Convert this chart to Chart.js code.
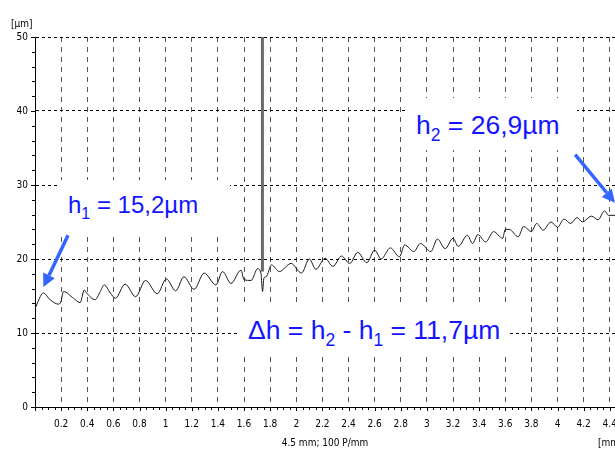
<!DOCTYPE html>
<html>
<head>
<meta charset="utf-8">
<script src="https://cdn.jsdelivr.net/npm/chart.js@4/dist/chart.umd.min.js"></script>
<style>
html,body{margin:0;padding:0;background:#fff;}
#wrap{position:relative;width:615px;height:452px;overflow:hidden;background:#fff;}
#c{position:absolute;left:0;top:0;}
.box{position:absolute;background:#fff;}
.lbl{position:absolute;font-family:'Liberation Sans',Arial,sans-serif;color:#1414ff;font-size:24px;line-height:24px;white-space:nowrap;}
.lbl sub{font-size:16px;vertical-align:baseline;position:relative;top:6px;}
.big{font-size:26.5px;line-height:26.5px;}
.big sub{font-size:17.5px;top:7px;}
</style>
</head>
<body>
<div id="wrap">
<canvas id="c" width="615" height="452"></canvas>
<div class="box" style="left:57px;top:180px;width:173px;height:54px"></div>
<div class="box" style="left:405px;top:98px;width:172px;height:52px"></div>
<div class="box" style="left:240px;top:306px;width:268px;height:46px"></div>
<div class="lbl" style="left:68px;top:193px">h<sub>1</sub> = 15,2µm</div>
<div class="lbl big" style="left:416px;top:112px">h<sub>2</sub> = 26,9µm</div>
<div class="lbl big" style="left:248px;top:317px">Δh = h<sub>2</sub> - h<sub>1</sub> = 11,7µm</div>
</div>
<script>
// ---- data ----
const profileX = [
  0, 0.064, 0.115, 0.18, 0.198, 0.218, 0.295, 0.346, 0.377, 0.395,
  0.46, 0.5, 0.53, 0.577, 0.615, 0.69, 0.77, 0.846, 0.936, 1.005,
  1.077, 1.14, 1.218, 1.295, 1.385, 1.436, 1.5, 1.577, 1.6, 1.654,
  1.705, 1.73, 1.742, 1.752, 1.77, 1.81, 1.87, 1.96, 2.04, 2.1,
  2.15, 2.22, 2.28, 2.346, 2.41, 2.47, 2.54, 2.6, 2.65, 2.72,
  2.79, 2.83, 2.9, 2.95, 3.03, 3.08, 3.14, 3.2, 3.24, 3.31,
  3.35, 3.39, 3.45, 3.51, 3.58, 3.6, 3.63, 3.7, 3.74, 3.8,
  3.84, 3.89, 3.95, 4.0, 4.05, 4.1, 4.15, 4.19, 4.26, 4.31,
  4.36, 4.39, 4.44
];
const profileY = [
  13.3, 15.4, 14.5, 13.9, 14.2, 15.6, 14.7, 14.1, 15.8, 15.4,
  14.5, 15.6, 16.5, 15.4, 14.7, 16.6, 14.9, 17.1, 15.3, 17.3,
  15.7, 17.6, 15.9, 18.1, 16.5, 18.3, 16.7, 18.5, 17.2, 17.1,
  18.7, 18.0, 15.6, 17.4, 17.6, 19.2, 18.3, 19.4, 18.1, 20.0,
  18.6, 20.1, 19.0, 20.4, 19.4, 20.9, 19.5, 21.2, 20.0, 21.5,
  20.3, 21.9, 21.0, 22.1, 21.0, 22.7, 21.4, 22.8, 21.7, 23.2,
  22.1, 23.3, 22.3, 23.7, 22.8, 24.0, 24.0, 23.0, 24.4, 23.7,
  24.8, 23.9, 25.0, 24.3, 25.4, 24.8, 25.6, 25.0, 25.8, 25.3,
  26.5, 25.9, 25.9
];
const spikeX = [1.741, 1.741];
const spikeY = [18.3, 50];
const xTickLabels = ['', '0.2', '0.4', '0.6', '0.8', '1', '1.2', '1.4', '1.6', '1.8', '2', '2.2',
  '2.4', '2.6', '2.8', '3', '3.2', '3.4', '3.6', '3.8', '4', '4.2', '4.4'];
const yTickLabels = ['0', '10', '20', '30', '40', '50'];
// arrows in data coordinates: [fromX, fromY, toX, toY]
const arrowH1 = [0.253, 23.2, 0.064, 16.2];
const arrowH2 = [4.135, 34.1, 4.44, 27.6];

const FONT = "'Liberation Sans Narrow','DejaVu Sans Condensed',Arial,sans-serif";

function drawArrow(ctx, x1, y1, x2, y2) {
  const ang = Math.atan2(y2 - y1, x2 - x1);
  const head = 13, half = 6.5;
  const bx = x2 - head * Math.cos(ang), by = y2 - head * Math.sin(ang);
  ctx.strokeStyle = '#3366ff';
  ctx.fillStyle = '#3366ff';
  ctx.lineWidth = 3.5;
  ctx.lineCap = 'butt';
  ctx.beginPath(); ctx.moveTo(x1, y1); ctx.lineTo(bx, by); ctx.stroke();
  ctx.beginPath();
  ctx.moveTo(x2, y2);
  ctx.lineTo(bx + half * Math.sin(ang), by - half * Math.cos(ang));
  ctx.lineTo(bx - half * Math.sin(ang), by + half * Math.cos(ang));
  ctx.closePath(); ctx.fill();
}

const extras = {
  id: 'extras',
  afterDraw(chart) {
    const {ctx, chartArea: a} = chart;
    const x = chart.scales.x, y = chart.scales.y;
    ctx.save();
    ctx.strokeStyle = '#000';
    ctx.lineWidth = 1;
    ctx.setLineDash([]);
    ctx.beginPath();
    for (let i = 0; i * 0.05 <= x.max + 1e-9; i++) {
      const px = Math.round(x.getPixelForValue(i * 0.05)) + 0.5;
      const len = (i % 4 === 0) ? 4 : 3;
      ctx.moveTo(px, a.bottom); ctx.lineTo(px, a.bottom + len);
    }
    for (let i = 0; i <= 25; i++) {
      const py = Math.round(y.getPixelForValue(i * 2)) + 0.5;
      const len = (i % 5 === 0) ? 4 : 3;
      ctx.moveTo(a.left - len, py); ctx.lineTo(a.left, py);
    }
    ctx.stroke();
    ctx.fillStyle = '#000';
    ctx.font = '10px ' + FONT;
    ctx.textBaseline = 'middle';
    ctx.textAlign = 'left';
    ctx.fillText('[µm]', 11, 24);
    ctx.fillText('[mm]', 598, 443);
    const P = (arr) => [x.getPixelForValue(arr[0]), y.getPixelForValue(arr[1]), x.getPixelForValue(arr[2]), y.getPixelForValue(arr[3])];
    drawArrow(ctx, ...P(arrowH1));
    drawArrow(ctx, ...P(arrowH2));
    ctx.restore();
  }
};

new Chart(document.getElementById('c'), {
  type: 'line',
  data: {
    datasets: [
      {
        data: profileX.map((v, i) => ({x: v, y: profileY[i]})),
        borderColor: '#1a1a1a', borderWidth: 1, pointRadius: 0,
        cubicInterpolationMode: 'monotone', fill: false
      },
      {
        data: spikeX.map((v, i) => ({x: v, y: spikeY[i]})),
        borderColor: '#6a6a6a', borderWidth: 3, pointRadius: 0, fill: false
      }
    ]
  },
  options: {
    responsive: false,
    animation: false,
    devicePixelRatio: 1,
    layout: {padding: {top: 37, left: 0, right: 0, bottom: 0}},
    plugins: {legend: {display: false}, tooltip: {enabled: false}},
    scales: {
      x: {
        type: 'linear', min: 0, max: 4.44,
        ticks: {
          stepSize: 0.2, includeBounds: false, autoSkip: false, maxRotation: 0, minRotation: 0,
          padding: 11, color: '#000', font: {family: FONT, size: 10},
          callback: (v, i) => xTickLabels[i] ?? ''
        },
        grid: {color: '#555', lineWidth: 1, drawTicks: false},
        border: {display: true, color: '#000', width: 1, dash: [5, 5]},
        title: {display: true, text: '4.5 mm; 100 P/mm', color: '#000',
          font: {family: FONT, size: 10}, padding: {top: 0, bottom: 3}},
        afterFit(s) { s.height = 45; s.paddingLeft = 0; s.paddingRight = 0; }
      },
      y: {
        type: 'linear', min: 0, max: 50,
        ticks: {
          stepSize: 10, padding: 7, color: '#000', font: {family: FONT, size: 10},
          callback: (v, i) => yTickLabels[i] ?? ''
        },
        grid: {color: '#000', lineWidth: 1, drawTicks: false},
        border: {display: true, color: '#000', width: 1, dash: [3, 3]},
        afterFit(s) { s.width = 35; }
      }
    }
  },
  plugins: [extras]
});
</script>
</body>
</html>
